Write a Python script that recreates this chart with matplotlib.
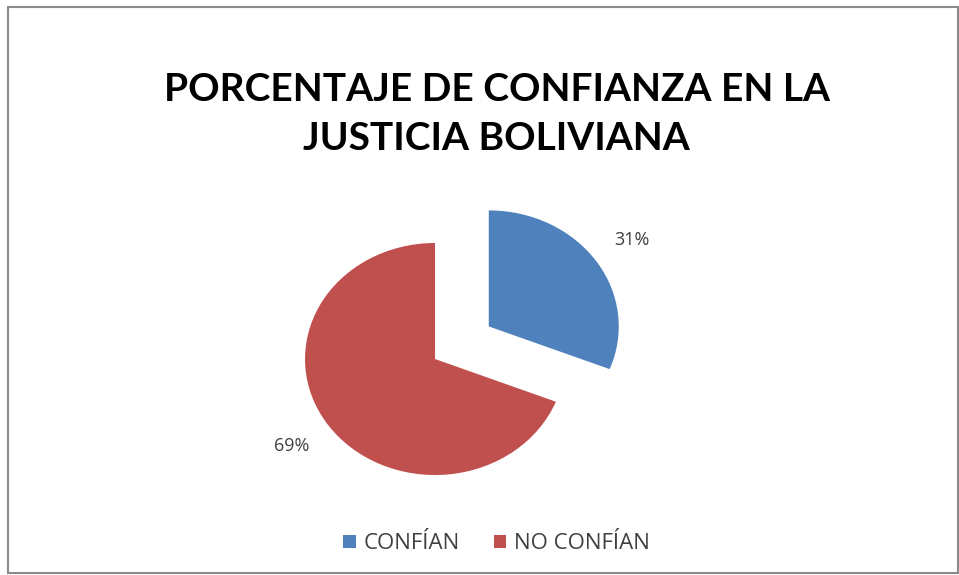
import matplotlib.pyplot as plt
from matplotlib.patches import Rectangle

# datos
categorias = ["CONFÍAN", "NO CONFÍAN"]
valores = [31, 69]
colores = ["#4F81BD", "#C0504D"]
titulo = "PORCENTAJE DE CONFIANZA EN LA\nJUSTICIA BOLIVIANA"

fig = plt.figure(figsize=(9.59, 5.75), dpi=100)

# marco exterior
fig.patches.append(Rectangle((8 / 959, 2 / 575), 950 / 959, 566 / 575,
                             transform=fig.transFigure, fill=False,
                             edgecolor="#8a8a8a", linewidth=1.5))

ax = fig.add_axes([0.3045, 0.1537, 0.366, 0.4842])
wedges, textos, pcts = ax.pie(
    valores, colors=colores, startangle=90, counterclock=False,
    explode=[0.5, 0], autopct="%1.0f%%", pctdistance=1.33,
    textprops={"fontsize": 13, "color": "#404040", "family": "Open Sans"},
)
ax.set_aspect("auto")
ax.set_xlim(-1.1, 1.6)
ax.set_ylim(-1.1, 1.3)

fig.text(0.518, 0.802, titulo, ha="center", va="center", fontsize=28,
         fontweight="bold", family="Lato", linespacing=1.5, color="black")

fig.legend(wedges, categorias, loc="center", bbox_to_anchor=(0.518, 0.054),
           ncol=2, frameon=False, handlelength=0.55, handleheight=0.55,
           handletextpad=0.35, columnspacing=1.55,
           prop={"family": "Open Sans", "size": 16}, labelcolor="#404040")

fig.savefig("out.png", dpi=100)
